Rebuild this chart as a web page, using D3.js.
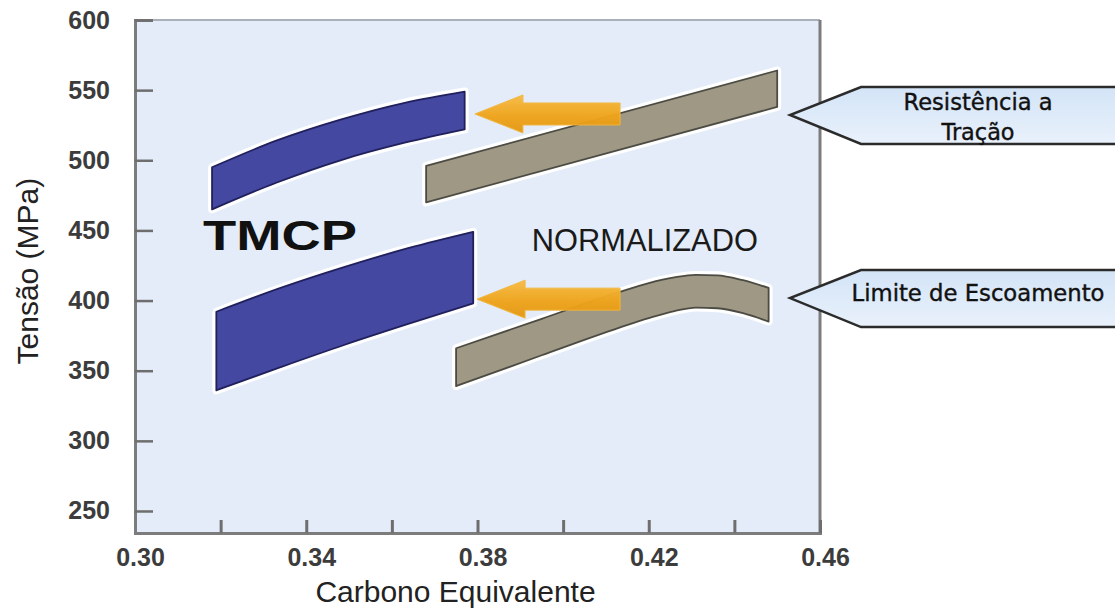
<!DOCTYPE html>
<html>
<head>
<meta charset="utf-8">
<script src="https://cdn.jsdelivr.net/npm/d3@7"></script>
<style>
  html, body { margin: 0; padding: 0; background: #ffffff; }
  svg { display: block; }
</style>
</head>
<body>
<svg id="chart" width="1115" height="610"></svg>
<script>
// Axis ticks
const xTicks = [0.30, 0.32, 0.34, 0.36, 0.38, 0.40, 0.42, 0.44, 0.46];
const xLabelTicks = [0.30, 0.34, 0.38, 0.42, 0.46];
const yTicks = [250, 300, 350, 400, 450, 500, 550, 600];

// Bands: [carbono equivalente, tensão inferior, tensão superior] (MPa)
const tmcpTensile = [
  [0.318, 465, 495], [0.333, 484, 514], [0.348, 500, 529], [0.363, 512.5, 541], [0.377, 522, 549]
];
const tmcpYield = [
  [0.319, 336, 392], [0.334, 352.5, 409], [0.349, 368.5, 424], [0.364, 383.5, 437.5], [0.379, 398, 449]
];
const normTensile = [
  [0.368, 470, 496], [0.450, 538, 564]
];
const normYield = [
  [0.375, 339, 366], [0.395, 361, 387], [0.413, 380.5, 406], [0.420, 387.5, 412.5],
  [0.426, 392.5, 416.5], [0.431, 395, 418.3], [0.436, 394.5, 418], [0.442, 391, 414.5], [0.448, 385, 409]
];

// Shift arrows: [tip CE, tail CE, MPa]
const shiftArrows = [[0.3794, 0.4133, 533], [0.3799, 0.4133, 401]];

// Callouts: anchor [CE, MPa] and text lines
const calloutAnchors = [[0.453, 532.3], [0.453, 401.8]];
const calloutLines = [["Resistência a", "Tração"], ["Limite de Escoamento"]];

// Group labels: [text, CE, MPa]
const groupLabels = [["TMCP", 0.3159, 436], ["NORMALIZADO", 0.3927, 435.5]];

const svg = d3.select("#chart");
const x = d3.scaleLinear().domain([0.30, 0.46]).range([135, 820]);
const y = d3.scaleLinear().domain([234.3, 600]).range([533, 20]);

const defs = svg.append("defs");
const ag = defs.append("linearGradient").attr("id", "arrowGrad")
  .attr("x1", 0).attr("y1", 0).attr("x2", 0).attr("y2", 1);
ag.append("stop").attr("offset", "0%").attr("stop-color", "#f7bd45");
ag.append("stop").attr("offset", "55%").attr("stop-color", "#efa41c");
ag.append("stop").attr("offset", "100%").attr("stop-color", "#e49812");
const cg = defs.append("linearGradient").attr("id", "calloutGrad")
  .attr("x1", 0).attr("y1", 0).attr("x2", 0).attr("y2", 1);
cg.append("stop").attr("offset", "0%").attr("stop-color", "#d3e4f7");
cg.append("stop").attr("offset", "100%").attr("stop-color", "#e9f1fb");

// Plot panel
svg.append("rect")
  .attr("x", x(0.30)).attr("y", y(600))
  .attr("width", x(0.46) - x(0.30)).attr("height", y(234.3) - y(600))
  .attr("fill", "#e3ecf8");
svg.append("line")
  .attr("x1", x(0.30)).attr("x2", x(0.46)).attr("y1", y(600)).attr("y2", y(600))
  .attr("stroke", "#a9b0ba").attr("stroke-width", 2);
svg.append("line")
  .attr("x1", x(0.46)).attr("x2", x(0.46)).attr("y1", y(600)).attr("y2", y(234.3))
  .attr("stroke", "#7c7c7c").attr("stroke-width", 3);

const font = "'Liberation Sans', Arial, sans-serif";

// Axes
const xAxis = d3.axisBottom(x).tickValues(xTicks).tickSize(-13).tickPadding(15)
  .tickFormat(d => xLabelTicks.some(v => Math.abs(v - d) < 1e-9) ? d3.format(".2f")(d) : "");
const gx = svg.append("g").attr("transform", `translate(0,${y(234.3)})`).call(xAxis);
gx.select(".domain").attr("stroke", "#7c7c7c").attr("stroke-width", 3);
gx.selectAll(".tick line").attr("stroke", "#6e6e6e").attr("stroke-width", 3);
gx.selectAll(".tick text").attr("font-family", font).attr("font-size", 25)
  .attr("font-weight", "bold").attr("fill", "#3c3c3c").attr("dx", 5);

const yAxis = d3.axisLeft(y).tickValues(yTicks).tickSize(-18).tickPadding(25);
const gy = svg.append("g").attr("transform", `translate(${x(0.30)},0)`).call(yAxis);
gy.select(".domain").attr("stroke", "#7c7c7c").attr("stroke-width", 3);
gy.selectAll(".tick line").attr("stroke", "#6e6e6e").attr("stroke-width", 2.5);
gy.selectAll(".tick text").attr("font-family", font).attr("font-size", 25)
  .attr("font-weight", "bold").attr("fill", "#3c3c3c");

// Axis titles
svg.append("text")
  .attr("x", (x(0.30) + x(0.46)) / 2 - 22).attr("y", 602)
  .attr("text-anchor", "middle").attr("font-family", font).attr("font-size", 30)
  .attr("fill", "#222").text("Carbono Equivalente");
svg.append("text")
  .attr("transform", `translate(38,${y(421)}) rotate(-90)`)
  .attr("text-anchor", "middle").attr("font-family", font).attr("font-size", 30)
  .attr("fill", "#222").text("Tensão (MPa)");

// Bands
const area = curve => d3.area()
  .x(d => x(d[0])).y0(d => y(d[1])).y1(d => y(d[2])).curve(curve);

function band(data, fill, stroke, curve) {
  const d = area(curve)(data);
  svg.append("path").attr("d", d).attr("fill", "#ffffff")
    .attr("stroke", "#ffffff").attr("stroke-width", 8).attr("stroke-linejoin", "round");
  svg.append("path").attr("d", d).attr("fill", fill)
    .attr("stroke", stroke).attr("stroke-width", 1.8).attr("stroke-linejoin", "round");
}
band(tmcpTensile, "#4548a0", "#1f205c", d3.curveMonotoneX);
band(tmcpYield, "#4548a0", "#1f205c", d3.curveMonotoneX);
band(normTensile, "#9e9884", "#4c4b43", d3.curveLinear);
band(normYield, "#9e9884", "#4c4b43", d3.curveMonotoneX);

// Shift arrows
const headLen = 48, headHalf = 19, shaftHalf = 11;
shiftArrows.forEach(([tip, tail, mpa]) => {
  const tx = x(tip), ex = x(tail), cy = y(mpa);
  const pts = [
    [tx, cy], [tx + headLen, cy - headHalf], [tx + headLen, cy - shaftHalf],
    [ex, cy - shaftHalf], [ex, cy + shaftHalf], [tx + headLen, cy + shaftHalf],
    [tx + headLen, cy + headHalf]
  ];
  svg.append("path").attr("d", d3.line()(pts) + "Z")
    .attr("fill", "url(#arrowGrad)").attr("stroke", "#f3b63c").attr("stroke-width", 1)
    .attr("opacity", 0.97);
});

// Group labels
svg.append("text")
  .attr("x", x(groupLabels[0][1])).attr("y", y(groupLabels[0][2]))
  .attr("font-family", font).attr("font-size", 42).attr("font-weight", "bold")
  .attr("fill", "#111").attr("textLength", 154).attr("lengthAdjust", "spacingAndGlyphs")
  .text(groupLabels[0][0]);
svg.append("text")
  .attr("x", x(groupLabels[1][1])).attr("y", y(groupLabels[1][2]))
  .attr("font-family", font).attr("font-size", 31)
  .attr("fill", "#1a1a1a").attr("textLength", 226).attr("lengthAdjust", "spacingAndGlyphs")
  .text(groupLabels[1][0]);

// Callouts
const calloutFont = "'DejaVu Sans', Verdana, sans-serif";
const lineWidths = [[149, 73], [253]];
calloutAnchors.forEach(([ce, mpa], i) => {
  const ax = x(ce), ay = y(mpa);
  const top = ay - 28, bot = ay + 29, corner = ax + 71;
  svg.append("path")
    .attr("d", `M${1120},${top}L${corner},${top}L${ax},${ay}L${corner},${bot}L${1120},${bot}`)
    .attr("fill", "url(#calloutGrad)").attr("stroke", "#2b2b2b").attr("stroke-width", 2.5)
    .attr("stroke-linejoin", "miter");
  const lines = calloutLines[i];
  const cx = ax + 188;
  lines.forEach((t, j) => {
    const by = lines.length === 1 ? ay + 3 : ay - 5 + j * 30;
    svg.append("text")
      .attr("x", cx).attr("y", by)
      .attr("text-anchor", "middle").attr("font-family", calloutFont).attr("font-size", 23)
      .attr("fill", "#111").attr("stroke", "#111").attr("stroke-width", 0.4)
      .attr("textLength", lineWidths[i][j]).attr("lengthAdjust", "spacingAndGlyphs")
      .text(t);
  });
});
</script>
</body>
</html>
